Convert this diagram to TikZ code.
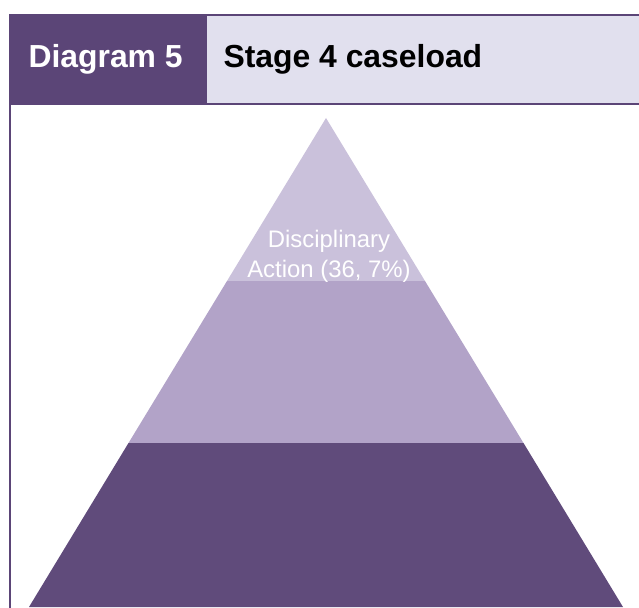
\documentclass[tikz,border=0pt]{standalone}
\usepackage{fontspec}
\setmainfont{Liberation Sans}

\definecolor{hdrdark}{HTML}{5B4577}
\definecolor{hdrlight}{HTML}{E1E0EE}
\definecolor{tiertop}{HTML}{CAC1DB}
\definecolor{tiermid}{HTML}{B2A3C8}
\definecolor{tierbot}{HTML}{604B7B}

\tikzset{
  hdrtext/.style={anchor=west,font=\bfseries\fontsize{32}{38}\selectfont},
  tiertext/.style={text=white,align=center,font=\fontsize{24}{30}\selectfont}
}

\begin{document}
\begin{tikzpicture}[x=1bp,y=-1bp]
      \useasboundingbox (0,0) rectangle (639,608);

      \coordinate (A) at (326,118);
      \coordinate (L1) at (227,281);
      \coordinate (R1) at (425,281);
      \coordinate (L2) at (128.5,443);
      \coordinate (R2) at (523.5,443);
      \coordinate (BL) at (29,607);
      \coordinate (BR) at (623,607);

      % header
      \fill[hdrlight] (207,15) rectangle (639,104);
      \fill[hdrdark] (10,15) rectangle (207,104);
      \draw[hdrdark,line width=2.6] (10,608) -- (10,15) -- (639,15);
      \draw[hdrdark,line width=2.6] (10,104) -- (639,104);

      \node[hdrtext,text=white] (num) at (25,59) {Diagram 5};
      \node[hdrtext] (title) at (220,59) {Stage 4 caseload};

      % pyramid
      \fill[tiertop] (A) -- (R1) -- (L1) -- cycle;
      \fill[tiermid] (L1) -- (R1) -- (R2) -- (L2) -- cycle;
      \fill[tierbot] (L2) -- (R2) -- (BR) -- (BL) -- cycle;

      \node[tiertext] (disc) at (329,256) {Disciplinary\\Action (36, 7\%)};
    \end{tikzpicture}
\end{document}
